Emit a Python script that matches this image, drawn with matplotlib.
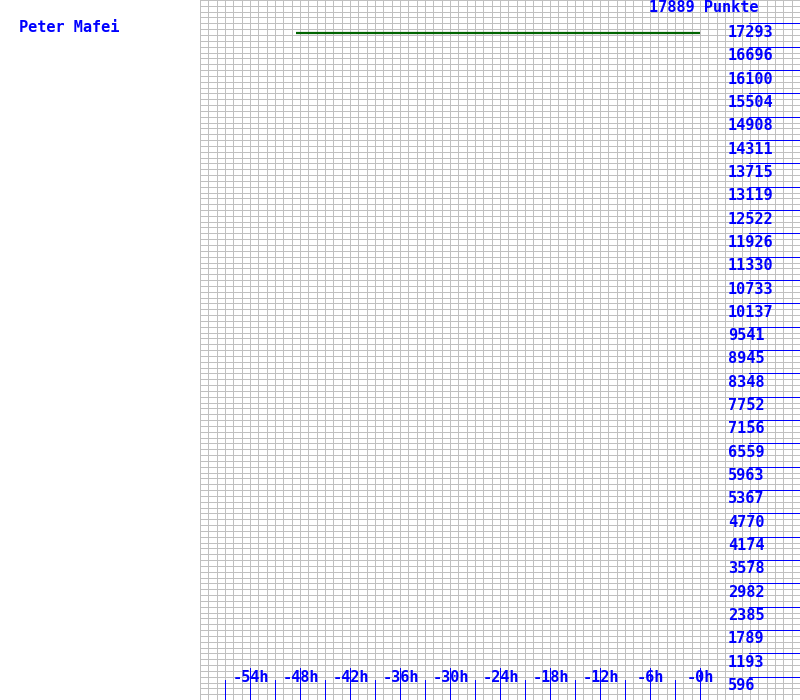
import matplotlib
matplotlib.use("Agg")
import matplotlib.pyplot as plt

# data
player = "Peter Mafei"
top_score = 17889
hours = [-48.5, 0.0]
score = [17050, 17050]

hour_ticks = [-54, -48, -42, -36, -30, -24, -18, -12, -6, 0]
hour_labels = ["-54h", "-48h", "-42h", "-36h", "-30h", "-24h", "-18h", "-12h", "-6h", "-0h"]
minor_hours = [-57, -51, -45, -39, -33, -27, -21, -15, -9, -3]
score_ticks = [17293, 16696, 16100, 15504, 14908, 14311, 13715, 13119, 12522,
               11926, 11330, 10733, 10137, 9541, 8945, 8348, 7752, 7156, 6559,
               5963, 5367, 4770, 4174, 3578, 2982, 2385, 1789, 1193, 596]

blue = "#0000ff"
fnt = dict(family="DejaVu Sans Mono", fontsize=11, fontweight="bold", color=blue)
thin = dict(lw=0.72, snap=True)   # one pixel at 100 dpi

fig = plt.figure(figsize=(8, 7), dpi=100)
ax = fig.add_axes([0, 0, 1, 1])
ax.set_xlim(-84, 12)
ax.set_ylim(0, top_score)
ax.set_axis_off()

# px -> data helpers
hpx = 96 / 800.0          # hours per pixel
vpx = top_score / 700.0   # points per pixel

# the grid (1h wide, 1/120 of the range high)
for h in range(-60, 13):
    ax.plot([h, h], [0, top_score], color="#c0c0c0", zorder=1, **thin)
for n in range(121):
    y = top_score * n / 120
    ax.plot([-60, 12], [y, y], color="#c0c0c0", zorder=1, **thin)

# score line
ax.plot(hours, score, color="#006400", lw=1.6, solid_capstyle="butt", zorder=3)

# right-hand ticks with labels underneath
for v in score_ticks:
    ax.plot([5.9, 12], [v, v], color=blue, zorder=2, **thin)
    ax.text(-84 + 728 * hpx, v - 1.5 * vpx, str(v), ha="left", va="top", zorder=4, **fnt)
ax.text(-84 + 649 * hpx, top_score - 0.5 * vpx, "%d Punkte" % top_score,
        ha="left", va="top", zorder=4, **fnt)

# bottom ticks
for h, lab in zip(hour_ticks, hour_labels):
    ax.plot([h, h], [0, 32 * vpx], color=blue, zorder=2, **thin)
    ax.text(h + 0.1, 22.5 * vpx, lab, ha="center", va="center", zorder=4, **fnt)
for h in minor_hours:
    ax.plot([h, h], [0, 20 * vpx], color=blue, zorder=2, **thin)

ax.text(-84 + 19 * hpx, top_score - 28 * vpx, player, ha="left", va="center", **fnt)

fig.savefig("out.png", dpi=100)
